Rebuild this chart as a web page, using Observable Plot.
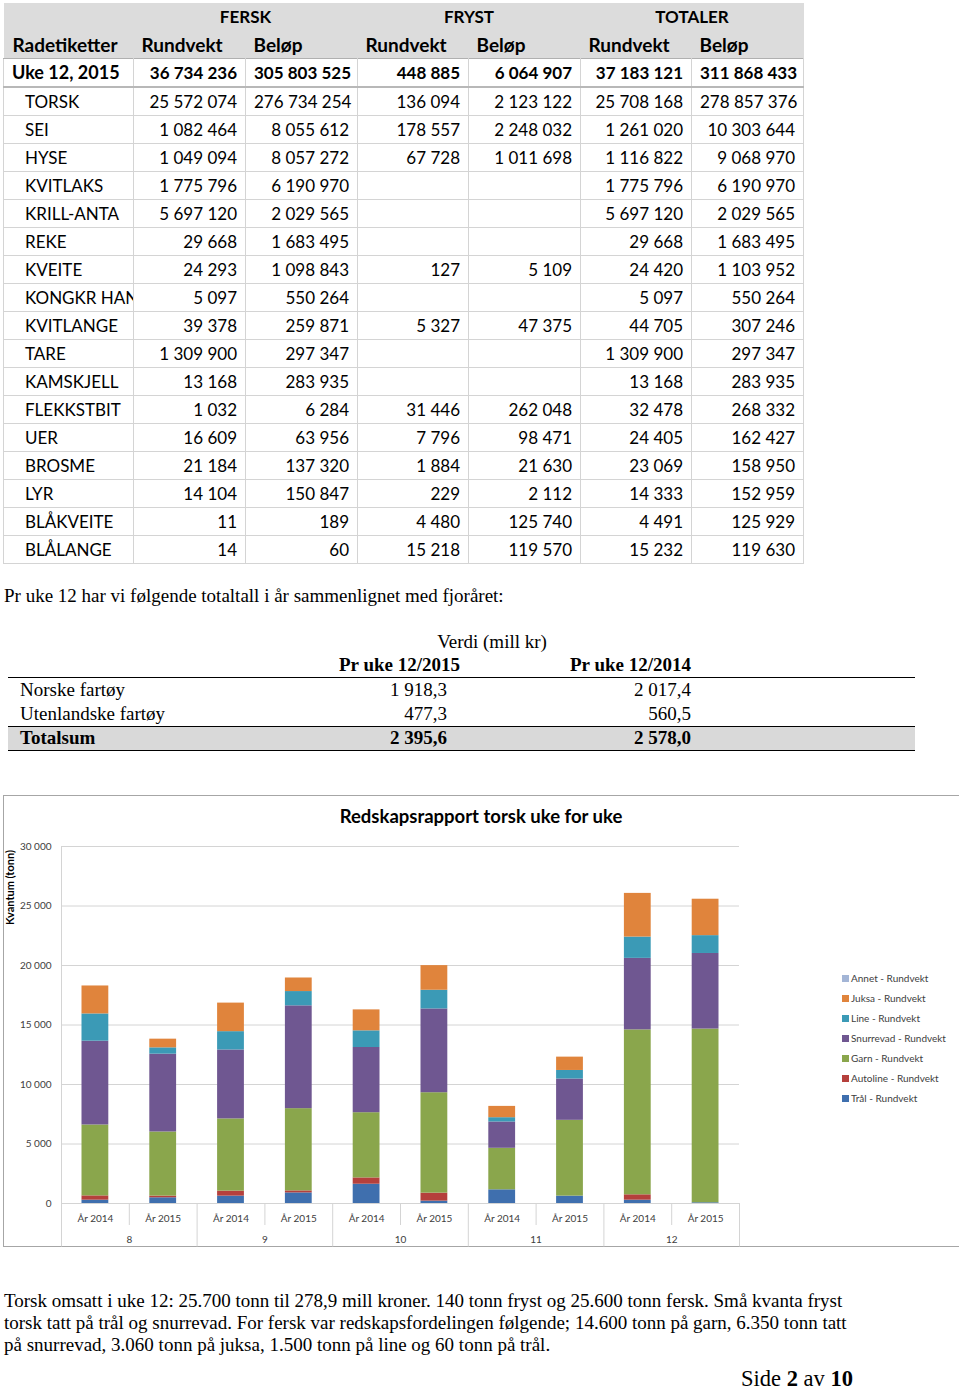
<!DOCTYPE html>
<html><head><meta charset="utf-8">
<script src="https://cdn.jsdelivr.net/npm/d3@7"></script>
<script src="https://cdn.jsdelivr.net/npm/@observablehq/plot@0.6"></script>
<style>
html,body{margin:0;padding:0;background:#fff;}
#page{position:relative;width:960px;height:1391px;overflow:hidden;}
.abs{position:absolute;}
#t1{position:absolute;left:3px;top:3px;width:800px;border-collapse:collapse;table-layout:fixed;font-family:Lato,sans-serif;font-size:17px;color:#000;}
#t1 td{height:27.8px;padding:0 8px;white-space:nowrap;overflow:hidden;box-sizing:border-box;line-height:27px;}
#t1 tr.h td{background:#dcdcdc;font-weight:bold;border:none;}
#t1 tr.h2 td{font-size:19px;}
#t1 tr.b td{border:1px solid #d4d4d4;text-align:right;}
#t1 tr.b td:first-child{text-align:left;padding-left:21px;text-overflow:clip;}
#t1 tr.tot td{font-weight:bold;border-top:1px solid #b0b0b0;border-bottom:2px solid #b8b8b8;}
#t1 tr.tot td:first-child{padding-left:8px;font-size:18px;}
.serif{font-family:"Liberation Serif","Times New Roman",serif;font-size:19px;color:#000;white-space:nowrap;}
#t2{position:absolute;left:8px;top:630px;width:907px;border-collapse:collapse;table-layout:fixed;}
#t2 td{padding:0;}
#chartbox{position:absolute;left:3px;top:795px;width:956px;height:452px;box-sizing:border-box;border:1px solid #a6a6a6;border-right:none;background:#fff;}
#ctitle{position:absolute;left:0;width:954px;top:9px;text-align:center;font-family:Lato,sans-serif;font-weight:bold;font-size:18.5px;color:#000;}
#legend{position:absolute;left:838px;top:175px;font-family:Lato,sans-serif;font-size:10px;color:#404040;}
#legend div{height:20px;line-height:14px;white-space:nowrap;}
#legend span.sw{display:inline-block;width:7px;height:7px;margin-right:2px;vertical-align:0px;}
</style></head>
<body><div id="page"></div>
<script>
// ---------- Table 1 data ----------
const colGroups = ["FERSK", "FRYST", "TOTALER"];
const colSub = ["Rundvekt", "Beløp"];
const rowHeader = "Radetiketter";
const totalLabel = "Uke 12, 2015";
const totalRow = [36734236, 305803525, 448885, 6064907, 37183121, 311868433];
const species = ["TORSK","SEI","HYSE","KVITLAKS","KRILL-ANTA","REKE","KVEITE","KONGKR HANN","KVITLANGE","TARE","KAMSKJELL","FLEKKSTBIT","UER","BROSME","LYR","BLÅKVEITE","BLÅLANGE"];
const ferskRundvekt = [25572074,1082464,1049094,1775796,5697120,29668,24293,5097,39378,1309900,13168,1032,16609,21184,14104,11,14];
const ferskBelop = [276734254,8055612,8057272,6190970,2029565,1683495,1098843,550264,259871,297347,283935,6284,63956,137320,150847,189,60];
const frystRundvekt = [136094,178557,67728,null,null,null,127,null,5327,null,null,31446,7796,1884,229,4480,15218];
const frystBelop = [2123122,2248032,1011698,null,null,null,5109,null,47375,null,null,262048,98471,21630,2112,125740,119570];
const totRundvekt = [25708168,1261020,1116822,1775796,5697120,29668,24420,5097,44705,1309900,13168,32478,24405,23069,14333,4491,15232];
const totBelop = [278857376,10303644,9068970,6190970,2029565,1683495,1103952,550264,307246,297347,283935,268332,162427,158950,152959,125929,119630];

// ---------- Table 2 data ----------
const introText = "Pr uke 12 har vi følgende totaltall i år sammenlignet med fjoråret:";
const t2Title = "Verdi (mill kr)";
const t2Cols = ["Pr uke 12/2015", "Pr uke 12/2014"];
const t2Rows = ["Norske fartøy", "Utenlandske fartøy"];
const t2v2015 = ["1 918,3", "477,3"];
const t2v2014 = ["2 017,4", "560,5"];
const t2Total = ["Totalsum", "2 395,6", "2 578,0"];

// ---------- Chart data ----------
const chartTitle = "Redskapsrapport torsk uke for uke";
const yLabel = "Kvantum (tonn)";
const weekLabels = ["8", "9", "10", "11", "12"];
const yearLabels = ["År 2014","År 2015","År 2014","År 2015","År 2014","År 2015","År 2014","År 2015","År 2014","År 2015"];
const gears = ["Trål - Rundvekt","Autoline - Rundvekt","Garn - Rundvekt","Snurrevad - Rundvekt","Line - Rundvekt","Juksa - Rundvekt","Annet - Rundvekt"];
const gearColors = ["#3f6fae","#b5403c","#8aa64c","#6f5791","#3b9ab6","#e0843c","#a3b5d6"];
const tral      = [280, 480, 620, 890, 1620, 200, 1150, 620, 280, 60];
const autoline  = [360, 140, 420, 170, 530, 670, 0, 0, 450, 0];
const garn      = [5960, 5390, 6070, 6910, 5480, 8440, 3490, 6370, 13860, 14600];
const snurrevad = [7040, 6540, 5790, 8640, 5480, 7040, 2210, 3470, 6010, 6350];
const line      = [2290, 530, 1540, 1200, 1400, 1570, 360, 720, 1790, 1500];
const juksa     = [2350, 730, 2400, 1140, 1760, 2070, 950, 1120, 3670, 3060];
const annet     = [0, 0, 0, 0, 0, 0, 0, 0, 0, 0];
const yTicks = [0, 5000, 10000, 15000, 20000, 25000, 30000];

const bottomLines = [
  "Torsk omsatt i uke 12: 25.700 tonn til 278,9 mill kroner. 140 tonn fryst og 25.600 tonn fersk. Små kvanta fryst",
  "torsk tatt på trål og snurrevad. For fersk var redskapsfordelingen følgende; 14.600 tonn på garn, 6.350 tonn tatt",
  "på snurrevad, 3.060 tonn på juksa, 1.500 tonn på line og 60 tonn på trål."
];

// ---------- build ----------
const page = document.getElementById("page");
const fmt = v => v == null ? "" : d3.format(",")(v).replace(/,/g, " ");

// Table 1
const widths = [130,112,112,111,112,111,112];
let h = `<table id="t1"><colgroup>${widths.map(w=>`<col style="width:${w}px">`).join("")}</colgroup>`;
h += `<tr class="h"><td></td>${colGroups.map(g=>`<td colspan="2" style="text-align:center">${g}</td>`).join("")}</tr>`;
h += `<tr class="h h2"><td style="padding-left:9px">${rowHeader}</td>${colGroups.map(()=>colSub.map(s=>`<td>${s}</td>`).join("")).join("")}</tr>`;
h += `<tr class="b tot"><td>${totalLabel}</td>${totalRow.map(v=>`<td>${fmt(v)}</td>`).join("")}</tr>`;
species.forEach((s,i)=>{
  const vals = [ferskRundvekt[i],ferskBelop[i],frystRundvekt[i],frystBelop[i],totRundvekt[i],totBelop[i]];
  h += `<tr class="b"><td>${s}</td>${vals.map(v=>`<td>${fmt(v)}</td>`).join("")}</tr>`;
});
h += `</table>`;
page.insertAdjacentHTML("beforeend", h);

// intro text
page.insertAdjacentHTML("beforeend", `<div class="abs serif" style="left:4px;top:585px;">${introText}</div>`);

// Table 2
let t2 = `<table id="t2" class="serif"><colgroup><col style="width:282px"><col style="width:170px"><col style="width:231px"><col></colgroup>`;
t2 += `<tr style="height:23px"><td></td><td colspan="2" style="text-align:center;padding-left:3px">${t2Title}</td><td></td></tr>`;
t2 += `<tr style="height:24px;font-weight:bold"><td></td><td style="text-align:right">${t2Cols[0]}</td><td style="text-align:right">${t2Cols[1]}</td><td></td></tr>`;
t2Rows.forEach((r,i)=>{
  t2 += `<tr style="height:${i===0?26:23}px;${i===0?'border-top:1px solid #000':''}"><td style="padding-left:12px">${r}</td><td style="text-align:right;padding-right:13px">${t2v2015[i]}</td><td style="text-align:right">${t2v2014[i]}</td><td></td></tr>`;
});
t2 += `<tr style="height:24px;font-weight:bold;background:#d9d9d9;border-top:1.5px solid #000;border-bottom:1.5px solid #000"><td style="padding-left:12px">${t2Total[0]}</td><td style="text-align:right;padding-right:13px">${t2Total[1]}</td><td style="text-align:right">${t2Total[2]}</td><td></td></tr>`;
t2 += `</table>`;
page.insertAdjacentHTML("beforeend", t2);

// Chart
const rows = [];
const series = [tral, autoline, garn, snurrevad, line, juksa, annet];
yearLabels.forEach((_, i) => {
  let acc = 0;
  series.forEach((s, k) => { rows.push({i, gear: gears[k], y1: acc, y2: acc + s[i]}); acc += s[i]; });
});

const box = document.createElement("div");
box.id = "chartbox";
page.appendChild(box);
box.insertAdjacentHTML("beforeend", `<div id="ctitle">${chartTitle}</div>`);

const below1 = -1850, below2 = -3650;
const chart = Plot.plot({
  width: 954, height: 450,
  marginLeft: 57, marginRight: 219, marginTop: 50, marginBottom: 43,
  style: {fontFamily: "Lato, sans-serif", fontSize: "10px", color: "#404040", background: "transparent", overflow: "visible"},
  x: {domain: [0, 10], axis: null},
  y: {domain: [0, 30000], ticks: yTicks, tickFormat: d => fmt(d), tickSize: 0, tickPadding: 10, label: null},
  color: {domain: gears, range: gearColors},
  marks: [
    Plot.ruleY(yTicks, {stroke: "#d4d4d4", strokeWidth: 1}),
    Plot.rect(rows, {x1: d => d.i, x2: d => d.i + 1, y1: "y1", y2: "y2", fill: "gear", insetLeft: 20.5, insetRight: 20.5}),
    Plot.ruleX([1, 3, 5, 7, 9], {y1: 0, y2: below1, stroke: "#d4d4d4"}),
    Plot.ruleX([2, 4, 6, 8, 10], {y1: 0, y2: below2, stroke: "#d4d4d4"}),
    Plot.ruleX([0], {y1: below2, y2: 30000, stroke: "#d4d4d4"}),
    Plot.text(yearLabels, {x: (d, i) => i + 0.5, y: 0, dy: 15, text: d => d, fill: "#404040"}),
    Plot.text(weekLabels, {x: (d, i) => 2 * i + 1, y: 0, dy: 36, text: d => d, fill: "#404040"}),
    Plot.text([yLabel], {frameAnchor: "top-left", dx: -55, dy: 41, rotate: -90, text: d => d, fontWeight: "bold", fontSize: 11, fill: "#000", textAnchor: "middle"})
  ]
});
chart.style.position = "absolute";
chart.style.left = "0px";
chart.style.top = "0px";
box.appendChild(chart);

// legend (top item = last gear)
let lg = `<div id="legend">`;
gears.slice().reverse().forEach((g) => {
  const c = gearColors[gears.indexOf(g)];
  lg += `<div><span class="sw" style="background:${c}"></span>${g}</div>`;
});
lg += `</div>`;
box.insertAdjacentHTML("beforeend", lg);

// bottom text
page.insertAdjacentHTML("beforeend", `<div class="abs serif" style="left:4px;top:1290px;line-height:22px;">${bottomLines.join("<br>")}</div>`);
page.insertAdjacentHTML("beforeend", `<div class="abs serif" style="left:741px;top:1366px;font-size:22.5px;">Side <b>2</b> av <b>10</b></div>`);
</script>
</body></html>
